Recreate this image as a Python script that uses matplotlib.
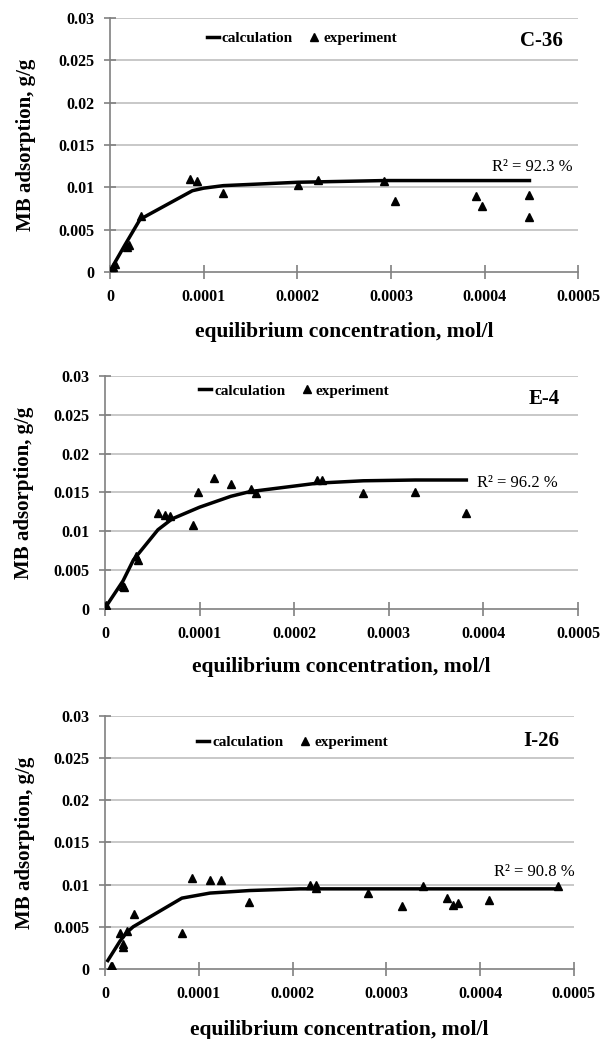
import matplotlib
matplotlib.use("Agg")
import matplotlib.pyplot as plt

plt.rcParams['font.family'] = ['Liberation Serif', 'DejaVu Serif']

# --- data ---
# C-36
c36_exp_x = [0.000003, 0.000005, 0.000018, 0.000020, 0.000033, 0.0000853, 0.000093, 0.000121,
             0.000201, 0.000222, 0.000293, 0.000304, 0.000391, 0.000397, 0.000448, 0.000448]
c36_exp_y = [0.0006, 0.0009, 0.0030, 0.0032, 0.0066, 0.0110, 0.0108, 0.0093,
             0.0103, 0.0109, 0.0107, 0.0084, 0.0090, 0.0078, 0.0091, 0.0065]
c36_calc_x = [0.000002, 0.000016, 0.000032, 0.000040, 0.000088, 0.000100, 0.000121,
              0.000201, 0.000293, 0.000391, 0.000448]
c36_calc_y = [0.0005, 0.0032, 0.0062, 0.0067, 0.0096, 0.0099, 0.0102,
              0.0106, 0.0108, 0.0108, 0.0108]

# E-4
e4_exp_x = [0.000001, 0.000019, 0.000020, 0.000033, 0.000035, 0.000056, 0.000063, 0.000069,
            0.000093, 0.000098, 0.000115, 0.000133, 0.000154, 0.000160, 0.000224, 0.000229,
            0.000273, 0.000328, 0.000382]
e4_exp_y = [0.0005, 0.0030, 0.0028, 0.0068, 0.0063, 0.0124, 0.0121, 0.0120,
            0.0108, 0.0151, 0.0169, 0.0161, 0.0155, 0.0149, 0.0166, 0.0166,
            0.0149, 0.0151, 0.0124]
e4_calc_x = [0.000001, 0.000019, 0.000030, 0.000056, 0.000071, 0.000100, 0.000133, 0.000153,
             0.000225, 0.000273, 0.000328, 0.000382]
e4_calc_y = [0.0003, 0.0036, 0.0063, 0.0102, 0.0116, 0.0131, 0.0145, 0.0151,
             0.0162, 0.0165, 0.0166, 0.0166]

# I-26
i26_exp_x = [0.000006, 0.000008, 0.000016, 0.000019, 0.000019, 0.000023, 0.000031, 0.000082,
             0.000093, 0.000112, 0.000124, 0.000154, 0.000219, 0.000225, 0.000225, 0.000281,
             0.000317, 0.000339, 0.000365, 0.000371, 0.000377, 0.000410, 0.000483]
i26_exp_y = [0.0004, 0.0003, 0.0043, 0.0030, 0.0026, 0.0045, 0.0065, 0.0043,
             0.0108, 0.0105, 0.0105, 0.0079, 0.0099, 0.0100, 0.0096, 0.0090,
             0.0075, 0.0098, 0.0084, 0.0076, 0.0078, 0.0082, 0.0098]
i26_calc_x = [0.000003, 0.000016, 0.000023, 0.000030, 0.000082, 0.000112, 0.000154,
              0.000208, 0.000281, 0.000339, 0.000410, 0.000483]
i26_calc_y = [0.0010, 0.0033, 0.0043, 0.0050, 0.0084, 0.0090, 0.0093,
              0.0095, 0.0095, 0.0095, 0.0095, 0.0095]

x_ticks = [0, 0.0001, 0.0002, 0.0003, 0.0004, 0.0005]
x_tick_labels = ['0', '0.0001', '0.0002', '0.0003', '0.0004', '0.0005']
y_ticks = [0, 0.005, 0.01, 0.015, 0.02, 0.025, 0.03]
y_tick_labels = ['0', '0.005', '0.01', '0.015', '0.02', '0.025', '0.03']

panels = [
    dict(name='C-36', r2='R² = 92.3 %', ex=c36_exp_x, ey=c36_exp_y, cx=c36_calc_x, cy=c36_calc_y,
         rect=[0.183, 0.7382, 0.779, 0.2445], leg=(0.41, 0.92), lab=(0.921, 0.909),
         r2pos=(0.989, 0.413), r2ha='right', xlab=-0.197, ylab=-0.158),
    dict(name='E-4', r2='R² = 96.2 %', ex=e4_exp_x, ey=e4_exp_y, cx=e4_calc_x, cy=e4_calc_y,
         rect=[0.1747, 0.4139, 0.787, 0.2243], leg=(0.40, 0.936), lab=(0.928, 0.901),
         r2pos=(0.786, 0.541), r2ha='left', xlab=-0.206, ylab=-0.150),
    dict(name='I-26', r2='R² = 90.8 %', ex=i26_exp_x, ey=i26_exp_y, cx=i26_calc_x, cy=i26_calc_y,
         rect=[0.1747, 0.0674, 0.780, 0.2435], leg=(0.40, 0.897), lab=(0.93, 0.901),
         r2pos=(1.002, 0.383), r2ha='right', xlab=-0.202, ylab=-0.149),
]

fig = plt.figure(figsize=(6.01, 10.39), dpi=100)

for p in panels:
    ax = fig.add_axes(p['rect'])
    ax.set_xlim(0, 0.0005)
    ax.set_ylim(0, 0.03)

    # gridlines (horizontal only)
    for yv in y_ticks[1:]:
        ax.axhline(yv, color='#c4c4c4', linewidth=1.3, zorder=0)

    ax.plot(p['cx'], p['cy'], color='black', linewidth=2.5, label='calculation', zorder=3)
    ax.plot(p['ex'], p['ey'], linestyle='none', marker='^', markersize=5.5,
            color='black', label='experiment', zorder=4)

    for side in ['top', 'right']:
        ax.spines[side].set_visible(False)
    for side in ['left', 'bottom']:
        ax.spines[side].set_color('#808080')
        ax.spines[side].set_linewidth(1.2)

    ax.set_xticks(x_ticks)
    ax.set_xticklabels(x_tick_labels, fontweight='bold', fontsize=11.5)
    ax.set_yticks(y_ticks)
    ax.set_yticklabels(y_tick_labels, fontweight='bold', fontsize=11.5)
    ax.tick_params(axis='x', direction='inout', length=10, width=1.2, color='#808080', pad=7)
    ax.tick_params(axis='y', direction='inout', length=9, width=1.2, color='#808080', pad=6.5)

    ax.set_xlabel('equilibrium concentration, mol/l', fontweight='bold', fontsize=15.5)
    ax.xaxis.set_label_coords(0.5, p['xlab'])
    ax.set_ylabel('MB adsorption, g/g', fontweight='bold', fontsize=15)
    ax.yaxis.set_label_coords(p['ylab'], 0.5)

    ax.legend(loc='center', bbox_to_anchor=p['leg'], ncol=2, frameon=False,
              handlelength=0.8, handletextpad=0.2, columnspacing=1.0,
              prop={'weight': 'bold', 'size': 11})

    ax.text(p['lab'][0], p['lab'][1], p['name'], transform=ax.transAxes,
            ha='center', va='center', fontsize=15, fontweight='bold')
    ax.text(p['r2pos'][0], p['r2pos'][1], p['r2'], transform=ax.transAxes,
            ha=p['r2ha'], va='center', fontsize=12)

fig.savefig('out.png', dpi=100)
